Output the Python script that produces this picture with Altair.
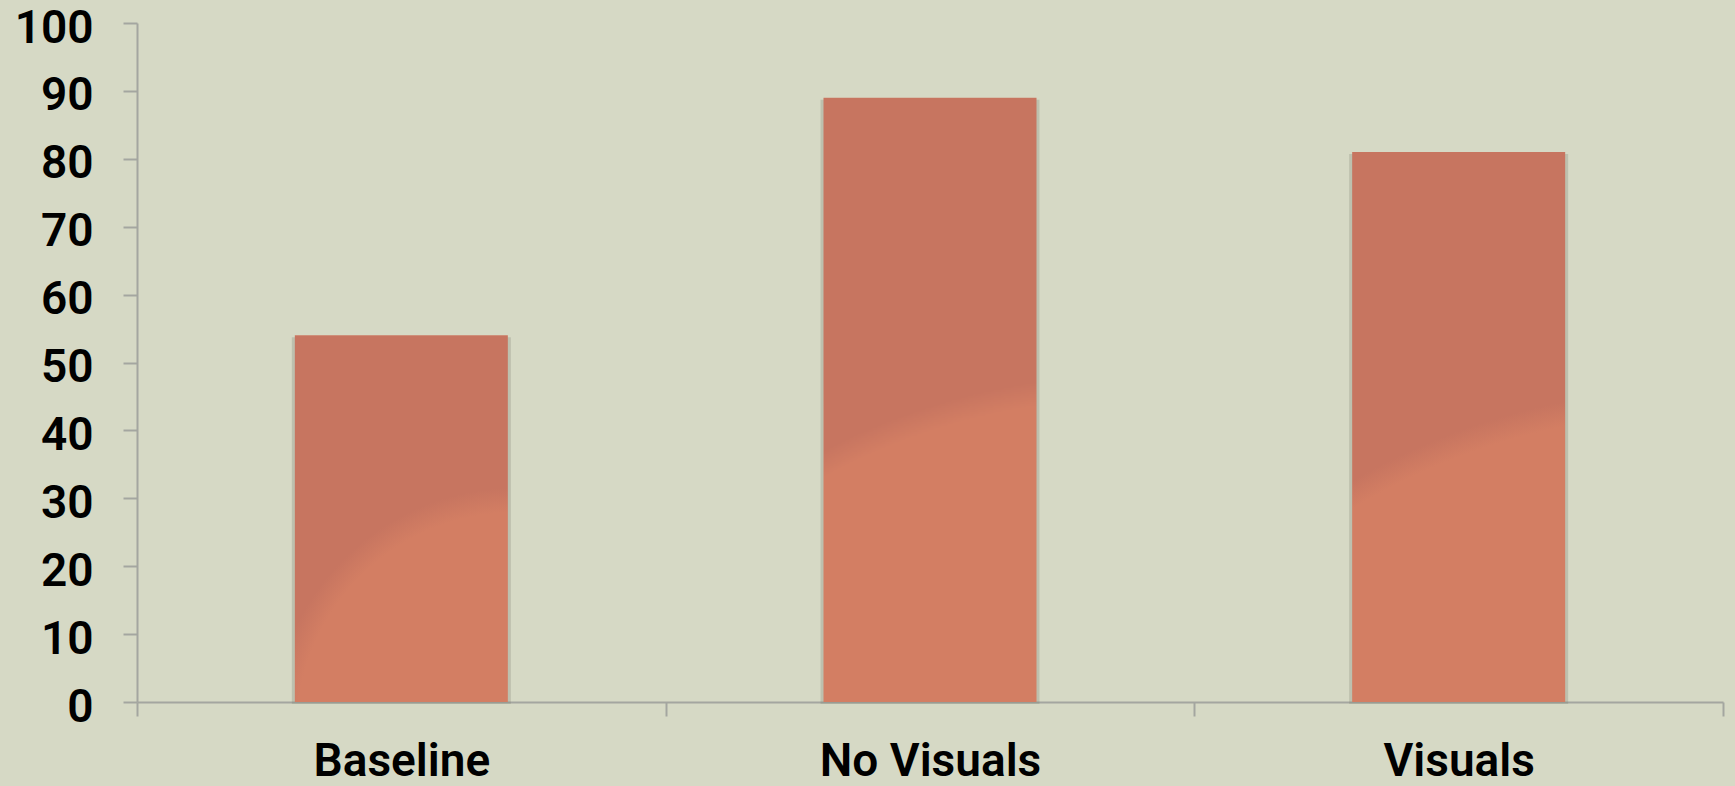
import altair as alt
import pandas as pd

# Scores per condition
groups = ["Baseline", "No Visuals", "Visuals"]
scores = [54, 89, 81]
y_ticks = [0, 10, 20, 30, 40, 50, 60, 70, 80, 90, 100]

df = pd.DataFrame({"group": groups, "score": scores})

BG = "#D6D9C5"
DARK = "#C77560"
LIGHT = "#D37E63"
AXIS_GREY = "#A4A6A0"
FONT = "Roboto"


def glow(cx, cy, r, inner):
    """Soft radial highlight rising from the lower right of a bar."""
    return {
        "gradient": "radial",
        "x1": cx, "y1": cy, "r1": 0,
        "x2": cx, "y2": cy, "r2": r,
        "stops": [
            {"offset": 0, "color": LIGHT},
            {"offset": inner, "color": LIGHT},
            {"offset": 1, "color": DARK},
        ],
    }


bar_fill = (
    alt.when(alt.datum.group == "Baseline")
    .then(alt.value(glow(0.81, 1.08, 0.663, 0.90)))
    .when(alt.datum.group == "No Visuals")
    .then(alt.value(glow(0.834, 1.563, 1.104, 0.964)))
    .otherwise(alt.value(glow(0.932, 1.685, 1.254, 0.965)))
)

x_enc = alt.X(
    "group:N",
    sort=groups,
    scale=alt.Scale(paddingInner=0, paddingOuter=0),
    axis=alt.Axis(
        title=None,
        labelAngle=0,
        tickBand="extent",
        tickSize=14,
        labelPadding=23,
        labelFontSize=46,
        labelLimit=0,
    ),
)
y_enc = alt.Y(
    "score:Q",
    scale=alt.Scale(domain=[0, 100], nice=False),
    axis=alt.Axis(
        title=None,
        values=y_ticks,
        grid=False,
        tickSize=14,
        labelPadding=30,
        labelFontSize=46,
        labelOffset=5,
    ),
)

base = alt.Chart(df).encode(x=x_enc, y=y_enc)

# faint drop shadow behind each bar
shadow = base.mark_bar(size=219, color="#7E8072", opacity=0.28, yOffset=2)
bars = base.mark_bar(size=213).encode(color=bar_fill)

chart = (
    alt.layer(shadow, bars)
    .properties(
        width=1586,
        height=679,
        background=BG,
        padding={"left": 137, "top": 23, "right": 12, "bottom": 84},
        autosize=alt.AutoSizeParams(type="none"),
    )
    .configure_view(stroke=None)
    .configure_axis(
        domainColor=AXIS_GREY,
        domainWidth=2,
        tickColor=AXIS_GREY,
        tickWidth=2,
        labelColor="#000000",
        labelFont=FONT,
        labelFontWeight=600,
    )
)

chart.save("out.html", embed_options={"renderer": "svg", "actions": False})
